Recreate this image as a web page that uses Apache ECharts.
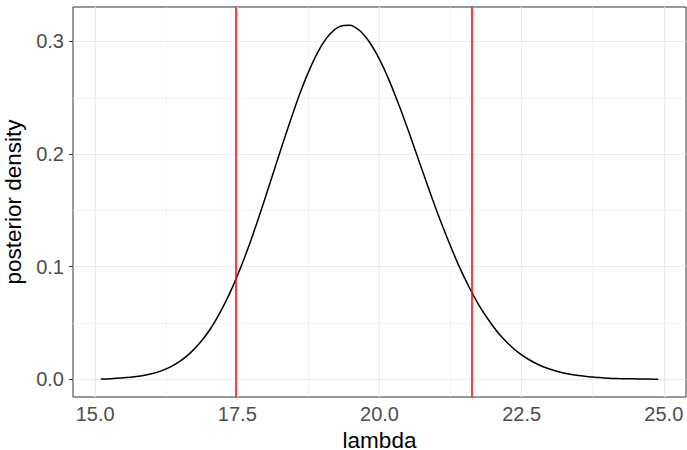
<!DOCTYPE html>
<html>
<head>
<meta charset="utf-8">
<script src="https://cdn.jsdelivr.net/npm/echarts@6/dist/echarts.min.js"></script>
<style>
    html, body { margin: 0; padding: 0; background: #fff; }
    #myChart { width: 687px; height: 450px; }
</style>
</head>
<body>
<div id="myChart"></div>
<script>
    // values
    const lambdaVals = [15.100, 15.275, 15.450, 15.625, 15.800, 15.975, 16.150, 16.325, 16.500, 16.675,
        16.850, 17.025, 17.200, 17.375, 17.550, 17.725, 17.900, 18.075, 18.250, 18.425,
        18.600, 18.775, 18.950, 19.125, 19.300, 19.475, 19.650, 19.825, 20.000, 20.175,
        20.350, 20.525, 20.700, 20.875, 21.050, 21.225, 21.400, 21.575, 21.750, 21.925,
        22.100, 22.275, 22.450, 22.625, 22.800, 22.975, 23.150, 23.325, 23.500, 23.675,
        23.850, 24.025, 24.200, 24.375, 24.550, 24.725, 24.900]
    const densityVals = [0.0003, 0.0006, 0.0011, 0.0018, 0.0029, 0.0047, 0.0073, 0.0111, 0.0164, 0.0235,
        0.0329, 0.0447, 0.0597, 0.0774, 0.0982, 0.1215, 0.1472, 0.1743, 0.2018, 0.2284,
        0.2538, 0.2757, 0.2936, 0.3063, 0.3134, 0.3145, 0.3097, 0.2993, 0.2841, 0.2648,
        0.2424, 0.2182, 0.1930, 0.1679, 0.1437, 0.1213, 0.1003, 0.0820, 0.0657, 0.0522,
        0.0405, 0.0312, 0.0235, 0.0176, 0.0129, 0.0094, 0.0067, 0.0047, 0.0033, 0.0023,
        0.0016, 0.0010, 0.0007, 0.0005, 0.0003, 0.0002, 0.0001]
    const intervalBounds = [17.48, 21.63]

    const xTicks = [15, 17.5, 20, 22.5, 25]
    const xMinor = [16.25, 18.75, 21.25, 23.75]
    const yTicks = [0, 0.1, 0.2, 0.3]
    const yMinor = [0.05, 0.15, 0.25]

    let myChart = echarts.init(document.getElementById('myChart'), null, {renderer: 'svg'})

    let gridLines = []
    xMinor.forEach(v => gridLines.push({xAxis: v, lineStyle: {width: 0.6}}))
    yMinor.forEach(v => gridLines.push({yAxis: v, lineStyle: {width: 0.6}}))
    xTicks.forEach(v => gridLines.push({xAxis: v, lineStyle: {width: 1.1}}))
    yTicks.forEach(v => gridLines.push({yAxis: v, lineStyle: {width: 1.1}}))

    let opt = {
        backgroundColor: '#fff',
        animation: false,
        textStyle: {fontFamily: 'Liberation Sans, Arial, sans-serif'},
        grid: {
            left: 73, right: 1, top: 7, bottom: 53,
            show: true, borderColor: '#333', borderWidth: 1, backgroundColor: 'transparent',
            containLabel: false,
            outerBoundsMode: 'none'
        },
        xAxis: {
            type: 'value',
            min: 14.61, max: 25.39,
            name: 'lambda',
            nameLocation: 'middle',
            nameGap: 31,
            nameTextStyle: {color: '#000', fontSize: 22.5, lineHeight: 16},
            axisLine: {show: false},
            axisTick: {show: true, length: 4, customValues: xTicks, lineStyle: {color: '#333', width: 1}},
            axisLabel: {
                customValues: xTicks, margin: 7, fontSize: 20, color: '#4d4d4d',
                formatter: v => v.toFixed(1)
            },
            splitLine: {show: false}
        },
        yAxis: {
            type: 'value',
            min: -0.0157, max: 0.3306,
            name: 'posterior density',
            nameLocation: 'middle',
            nameGap: 42,
            nameTextStyle: {color: '#000', fontSize: 22.5},
            axisLine: {show: false},
            axisTick: {show: true, length: 4, customValues: yTicks, lineStyle: {color: '#333', width: 1}},
            axisLabel: {
                customValues: yTicks, margin: 9, fontSize: 20, color: '#4d4d4d',
                formatter: v => v.toFixed(1)
            },
            splitLine: {show: false}
        },
        series: [
            {
                // background grid, kept under the curve
                type: 'line',
                data: [],
                z: 1,
                silent: true,
                markLine: {
                    z: 1,
                    silent: true,
                    symbol: 'none',
                    label: {show: false},
                    animation: false,
                    lineStyle: {color: '#ebebeb', type: 'solid'},
                    data: gridLines
                }
            },
            {
                name: 'density',
                type: 'line',
                z: 3,
                smooth: 0.3,
                symbol: 'none',
                showSymbol: false,
                lineStyle: {color: '#000', width: 1.5},
                data: lambdaVals.map((x, i) => [x, densityVals[i]])
            },
            {
                type: 'line',
                data: [],
                z: 4,
                markLine: {
                    z: 5,
                    silent: true,
                    symbol: 'none',
                    label: {show: false},
                    animation: false,
                    lineStyle: {color: '#ff0000', type: 'solid', width: 1.5},
                    data: intervalBounds.map(v => ({xAxis: v}))
                }
            }
        ]
    }
    myChart.setOption(opt)
</script>
</body>
</html>
